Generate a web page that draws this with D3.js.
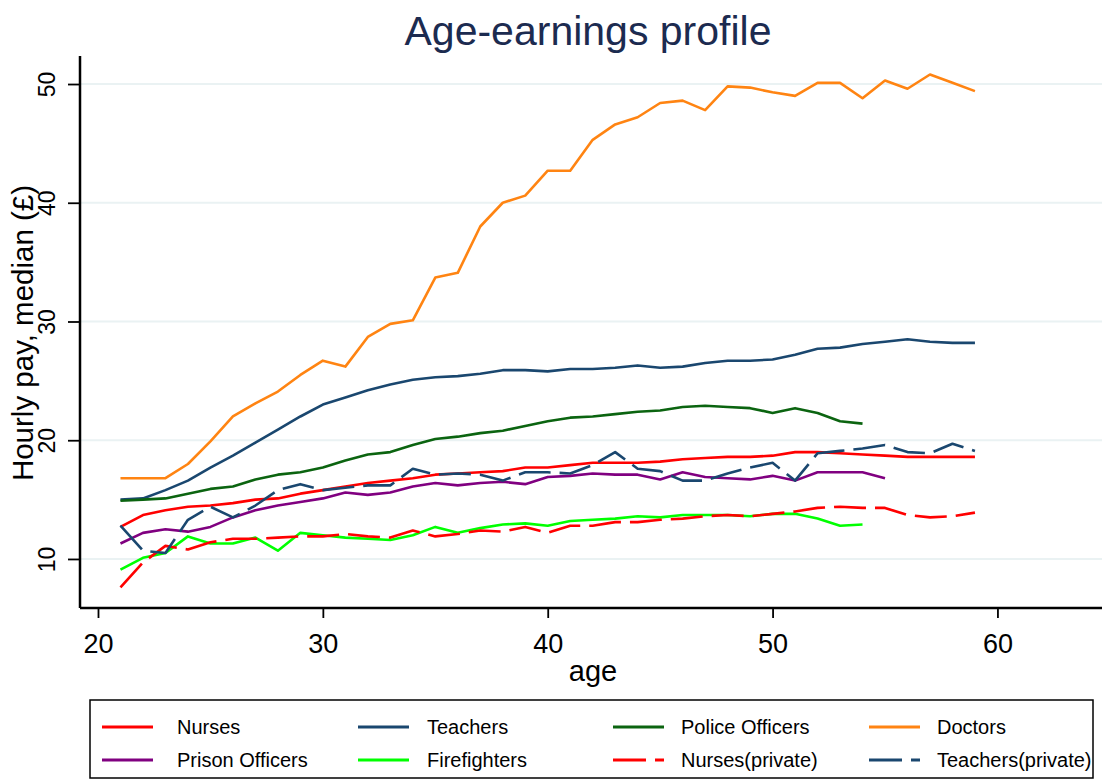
<!doctype html>
<html>
<head>
<meta charset="utf-8">
<title>Age-earnings profile</title>
<script src="https://d3js.org/d3.v7.min.js"></script>
<style type="text/css">
    html, body { margin: 0; padding: 0; background: #fff; }
    svg { display: block; font-family: "Liberation Sans", Arial, sans-serif; }
</style>
</head>
<body>
<svg id="chart" width="1102" height="780"></svg>
<script type="text/javascript">
// ages 21..59 (some series stop earlier)
var ages = d3.range(21, 60);
var xTicks = [20, 30, 40, 50, 60];
var yTicks = [10, 20, 30, 40, 50];

var nurses = [12.7,13.7,14.1,14.4,14.5,14.7,15.0,15.1,15.5,15.8,
    16.1,16.4,16.6,16.8,17.1,17.2,17.3,17.4,17.7,17.7,
    17.9,18.1,18.1,18.1,18.2,18.4,18.5,18.6,18.6,18.7,
    19.0,19.0,18.9,18.8,18.7,18.6,18.6,18.6,18.6];
var teachers = [15.0,15.1,15.8,16.6,17.7,18.7,19.8,20.9,22.0,23.0,
    23.6,24.2,24.7,25.1,25.3,25.4,25.6,25.9,25.9,25.8,
    26.0,26.0,26.1,26.3,26.1,26.2,26.5,26.7,26.7,26.8,
    27.2,27.7,27.8,28.1,28.3,28.5,28.3,28.2,28.2];
var police = [14.9,15.0,15.1,15.5,15.9,16.1,16.7,17.1,17.3,17.7,
    18.3,18.8,19.0,19.6,20.1,20.3,20.6,20.8,21.2,21.6,
    21.9,22.0,22.2,22.4,22.5,22.8,22.9,22.8,22.7,22.3,
    22.7,22.3,21.6,21.4];
var doctors = [16.8,16.8,16.8,18.0,19.9,22.0,23.1,24.1,25.5,26.7,
    26.2,28.7,29.8,30.1,33.7,34.1,38.0,40.0,40.6,42.7,
    42.7,45.3,46.6,47.2,48.4,48.6,47.8,49.8,49.7,49.3,
    49.0,50.1,50.1,48.8,50.3,49.6,50.8,50.1,49.4];
var prison = [11.3,12.2,12.5,12.3,12.7,13.5,14.1,14.5,14.8,15.1,
    15.6,15.4,15.6,16.1,16.4,16.2,16.4,16.5,16.3,16.9,
    17.0,17.2,17.1,17.1,16.7,17.3,16.9,16.8,16.7,17.0,
    16.6,17.3,17.3,17.3,16.8];
var firefighters = [9.1,10.1,10.5,11.9,11.3,11.3,11.8,10.7,12.2,12.0,
    11.8,11.7,11.6,12.0,12.7,12.2,12.6,12.9,13.0,12.8,
    13.2,13.3,13.4,13.6,13.5,13.7,13.7,13.7,13.6,13.8,
    13.8,13.4,12.8,12.9];
var nursesPrivate = [7.6,9.7,11.1,10.8,11.4,11.7,11.7,11.8,11.9,11.9,
    12.1,11.9,11.8,12.4,11.9,12.1,12.4,12.3,12.7,12.2,
    12.8,12.8,13.1,13.1,13.3,13.4,13.6,13.7,13.6,13.8,
    14.0,14.3,14.4,14.3,14.3,13.7,13.5,13.6,13.9];
var teachersPrivate = [12.8,10.7,10.5,13.3,14.4,13.5,14.5,15.8,16.3,15.8,
    16.0,16.2,16.2,17.6,17.1,17.2,17.1,16.6,17.3,17.3,
    17.2,17.9,19.0,17.6,17.4,16.6,16.6,17.2,17.7,18.1,
    16.6,18.9,19.1,19.3,19.6,19.0,18.9,19.7,19.1];

var series = [
    {name: "Nurses", values: nurses, color: "#ff0000", dash: null},
    {name: "Teachers", values: teachers, color: "#1a476f", dash: null},
    {name: "Police Officers", values: police, color: "#0b6410", dash: null},
    {name: "Doctors", values: doctors, color: "#ff8412", dash: null},
    {name: "Prison Officers", values: prison, color: "#800080", dash: null},
    {name: "Firefighters", values: firefighters, color: "#00ff00", dash: null},
    {name: "Nurses(private)", values: nursesPrivate, color: "#ff0000", dash: "32,9"},
    {name: "Teachers(private)", values: teachersPrivate, color: "#1a476f", dash: "32,9"}
];

var svg = d3.select("#chart");
var mLeft = 80, mRight = 1102, mTop = 56, mBottom = 608;

var x = d3.scaleLinear().domain([19.2, 64.65]).range([mLeft, mRight]);
var y = d3.scaleLinear().domain([5.87, 52.36]).range([mBottom, mTop]);

// grid
svg.append("g").selectAll("line")
    .data(yTicks)
    .enter().append("line")
    .attr("x1", mLeft).attr("x2", mRight)
    .attr("y1", function(d) { return y(d); })
    .attr("y2", function(d) { return y(d); })
    .style("stroke", "#eaf2f3")
    .style("stroke-width", 2);

// lines
var line = d3.line()
    .x(function(d, i) { return x(ages[i]); })
    .y(function(d) { return y(d); });

svg.append("g").selectAll("path")
    .data(series)
    .enter().append("path")
    .attr("d", function(s) { return line(s.values); })
    .style("fill", "none")
    .style("stroke", function(s) { return s.color; })
    .style("stroke-width", 2.6)
    .style("stroke-linejoin", "round")
    .style("stroke-dasharray", function(s) { return s.dash; });

// axes
var xAxis = d3.axisBottom(x).tickValues(xTicks).tickSize(10);
var gx = svg.append("g").attr("transform", "translate(0," + mBottom + ")").call(xAxis);
gx.select(".domain").attr("d", "M" + mLeft + ",0H" + mRight).style("stroke-width", 2.5);
gx.selectAll(".tick line").style("stroke-width", 1.8).attr("y1", 1);
gx.selectAll(".tick text")
    .attr("y", 45).attr("dy", null)
    .style("font-size", "27px").style("fill", "#000");

var yAxis = d3.axisLeft(y).tickValues(yTicks).tickSize(12);
var gy = svg.append("g").attr("transform", "translate(" + mLeft + ",0)").call(yAxis);
gy.select(".domain").attr("d", "M0," + mTop + "V" + mBottom).style("stroke-width", 2.5);
gy.selectAll(".tick line").style("stroke-width", 1.8);
gy.selectAll(".tick text")
    .attr("x", null).attr("y", null).attr("dy", null)
    .attr("text-anchor", "middle")
    .attr("transform", "translate(-25,0) rotate(-90)")
    .style("font-size", "23px")
    .style("fill", "#000");

// titles
svg.append("text")
    .attr("x", 588).attr("y", 45)
    .attr("text-anchor", "middle")
    .style("font-size", "41px")
    .style("fill", "#1c2b50")
    .text("Age-earnings profile");

svg.append("text")
    .attr("x", 593).attr("y", 681)
    .attr("text-anchor", "middle")
    .style("font-size", "29px")
    .text("age");

svg.append("text")
    .attr("transform", "translate(33,333) rotate(-90)")
    .attr("text-anchor", "middle")
    .style("font-size", "29.5px")
    .text("Hourly pay, median (£)");

// legend
var legend = svg.append("g");
legend.append("rect")
    .attr("x", 90).attr("y", 700)
    .attr("width", 1003).attr("height", 78)
    .style("fill", "#fff")
    .style("stroke", "#000")
    .style("stroke-width", 1.5);

var lineX = [102, 358, 613, 869];
var textX = [177, 427, 681, 937];
var rowY = [727, 760];
var item = legend.selectAll("g.item")
    .data(series)
    .enter().append("g")
    .attr("class", "item")
    .attr("transform", function(s, i) {
        return "translate(0," + rowY[Math.floor(i / 4)] + ")";
    });
item.append("line")
    .attr("x1", function(s, i) { return lineX[i % 4]; })
    .attr("x2", function(s, i) { return lineX[i % 4] + 51; })
    .style("stroke", function(s) { return s.color; })
    .style("stroke-width", 3)
    .style("stroke-dasharray", function(s) { return s.dash ? "33,9" : null; });
item.append("text")
    .attr("x", function(s, i) { return textX[i % 4]; })
    .attr("dy", "0.35em")
    .style("font-size", "20px")
    .text(function(s) { return s.name; });
</script>
</body>
</html>
